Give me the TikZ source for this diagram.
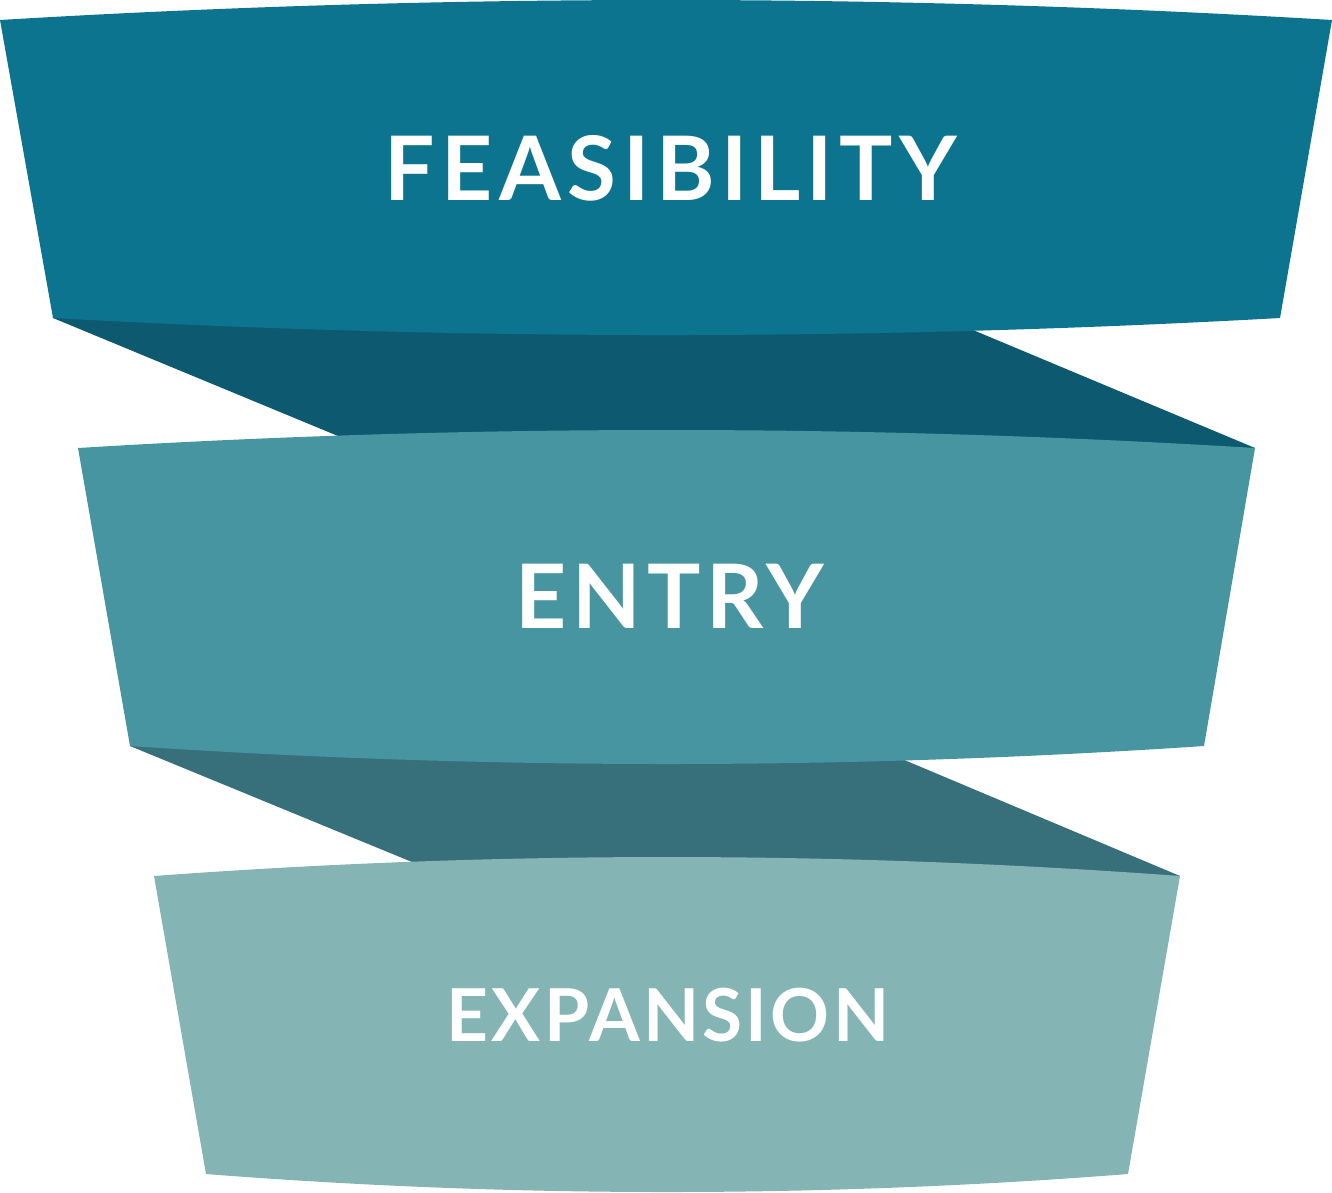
\documentclass[tikz,border=0pt]{standalone}
\usepackage{fontspec}
\newfontfamily\lblfont{Lato}
\definecolor{bandA}{HTML}{0D7490}
\definecolor{darkA}{HTML}{0D5A70}
\definecolor{bandB}{HTML}{4895A2}
\definecolor{darkB}{HTML}{37707B}
\definecolor{bandC}{HTML}{84B4B4}
\tikzset{
  lbl/.style 2 args={text=white, inner sep=0pt, anchor=base,
    font=\lblfont\bfseries\addfontfeatures{LetterSpace=#2}\fontsize{#1}{#1}\selectfont}
}
\begin{document}
\begin{tikzpicture}[x=1pt,y=-1pt]
\useasboundingbox (0,0) rectangle (1332,1192);
% connectors (behind)
\fill[darkA] (53,318) -- (338,436) -- (1255,448) -- (973,330) -- cycle;
\fill[darkB] (130,746) -- (412,862) -- (1180,876) -- (902,759) -- cycle;
% band 1
\fill[bandA] (0,20) .. controls (444,-6.67) and (888,-6.67) .. (1332,20)
  -- (1280,318) .. controls (871,340.7) and (462,340.7) .. (53,318) -- cycle;
% band 2
\fill[bandB] (78,448) .. controls (470.3,424) and (862.7,424) .. (1255,448)
  -- (1204,746) .. controls (846,770) and (488,770) .. (130,746) -- cycle;
% band 3
\fill[bandC] (154,876) .. controls (496,850.7) and (838,850.7) .. (1180,876)
  -- (1128,1174) .. controls (820.7,1198) and (513.3,1198) .. (206,1174) -- cycle;
% labels
\node[lbl={89}{7.3}] (feas) at (671,200) {FEASIBILITY};
\node[lbl={89}{6.5}] (entry) at (670,628) {ENTRY};
\node[lbl={73}{4.5}] (expa) at (668,1041) {EXPANSION};
\end{tikzpicture}
\end{document}
